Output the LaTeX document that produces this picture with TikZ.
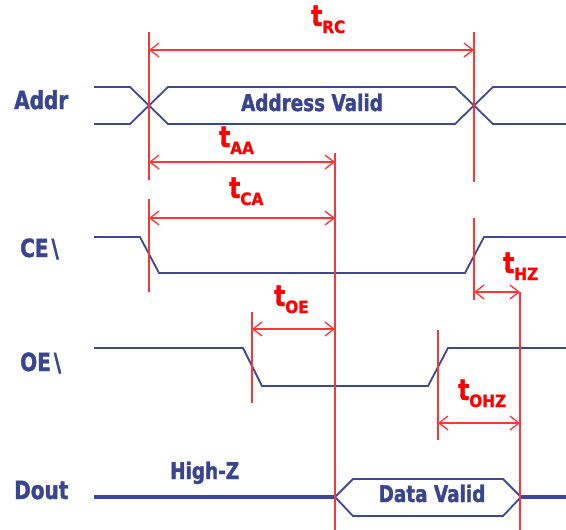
\documentclass[tikz,border=0pt]{standalone}
\usepackage{fontspec}
\newfontfamily\labfont{DejaVu Sans}[FakeStretch=0.8,FakeBold=1.5]
\newfontfamily\subfont{DejaVu Sans}[FakeStretch=0.9,FakeBold=1]
\usetikzlibrary{arrows.meta}
\definecolor{sigblue}{HTML}{3D4894}
\definecolor{txtblue}{HTML}{3A4590}
\definecolor{dimred}{HTML}{FF3434}
\definecolor{labred}{HTML}{FF0000}
\newcommand\tlab[1]{{\fontsize{29}{29}\selectfont t}\raisebox{-7pt}{\subfont\bfseries\fontsize{17}{17}\selectfont #1}}
\tikzset{
  sig/.style={draw=sigblue, line width=1.8pt, line join=miter},
  thicksig/.style={draw=sigblue, line width=3.6pt},
  mark line/.style={draw=dimred, line width=1.3pt},
  dim/.style={draw=dimred, line width=1.3pt, {Straight Barb[length=9pt,width=14pt]}-{Straight Barb[length=9pt,width=14pt]}},
  lab/.style={font=\labfont\bfseries\fontsize{23}{23}\selectfont, text=txtblue, inner sep=0pt},
  signame/.style={font=\labfont\bfseries\fontsize{25}{25}\selectfont, text=txtblue, inner sep=0pt, anchor=base west},
  tl/.style={font=\labfont\bfseries, text=labred, inner sep=0pt, anchor=base west},
}
\begin{document}
\begin{tikzpicture}[x=1pt,y=-1pt]
\useasboundingbox (0,0) rectangle (566,530);
% signal names
\node[signame] (addr) at (14,109) {Addr};
\node[signame] (ce) at (20,257) {CE\kern3pt\textbackslash};
\node[signame] (oe) at (20,371) {OE\kern3pt\textbackslash};
\node[signame] (dout) at (14,499) {Dout};
% Addr bus
\draw[sig] (94,87) -- (130,87) -- (168,124) -- (455,124) -- (493,87) -- (566,87);
\draw[sig] (94,124) -- (130,124) -- (168,87) -- (455,87) -- (493,124) -- (566,124);
\node[lab, anchor=base] (av) at (312,111) {Address Valid};
% CE
\draw[sig] (94,237) -- (140,237) -- (159,273) -- (465,273) -- (484,237) -- (566,237);
% OE
\draw[sig] (94,348) -- (243,348) -- (262,386) -- (428,386) -- (448,348) -- (566,348);
% Dout
\draw[thicksig] (94,497) -- (335,497);
\draw[sig] (335,497) -- (353,479) -- (503,479) -- (521,497) -- (503,516) -- (353,516) -- cycle;
\draw[thicksig] (521,497) -- (566,497);
\node[lab, anchor=base] (dv) at (432,502) {Data Valid};
\node[lab, anchor=base west] (hz) at (170,479) {High-Z};
% red timing marks
\draw[mark line] (149,32) -- (149,180);
\draw[mark line] (149,199) -- (149,292);
\draw[mark line] (474,32) -- (474,182);
\draw[mark line] (474,218) -- (474,300);
\draw[mark line] (335,153) -- (335,530);
\draw[mark line] (252,312) -- (252,403);
\draw[mark line] (438,330) -- (438,440);
\draw[mark line] (520,292) -- (520,530);
% coordinates for dimension arrows
\coordinate (rc1) at (149,50);  \coordinate (rc2) at (474,50);
\coordinate (aa1) at (149,162); \coordinate (aa2) at (335,162);
\coordinate (ca1) at (149,218); \coordinate (ca2) at (335,218);
\coordinate (hz1) at (474,292); \coordinate (hz2) at (520,292);
\coordinate (oe1) at (252,329); \coordinate (oe2) at (335,329);
\coordinate (oh1) at (438,423); \coordinate (oh2) at (520,423);
\draw[dim] (rc1) -- (rc2);
\draw[dim] (aa1) -- (aa2);
\draw[dim] (ca1) -- (ca2);
\draw[dim] (hz1) -- (hz2);
\draw[dim] (oe1) -- (oe2);
\draw[dim] (oh1) -- (oh2);
% timing labels
\node[tl] (trc) at (311,26) {\tlab{RC}};
\node[tl] (taa) at (219,147) {\tlab{AA}};
\node[tl] (tca) at (229,198) {\tlab{CA}};
\node[tl] (thz) at (503,273) {\tlab{HZ}};
\node[tl] (toe) at (274,306) {\tlab{OE}};
\node[tl] (tohz) at (458,400) {\tlab{OHZ}};
\end{tikzpicture}
\end{document}
